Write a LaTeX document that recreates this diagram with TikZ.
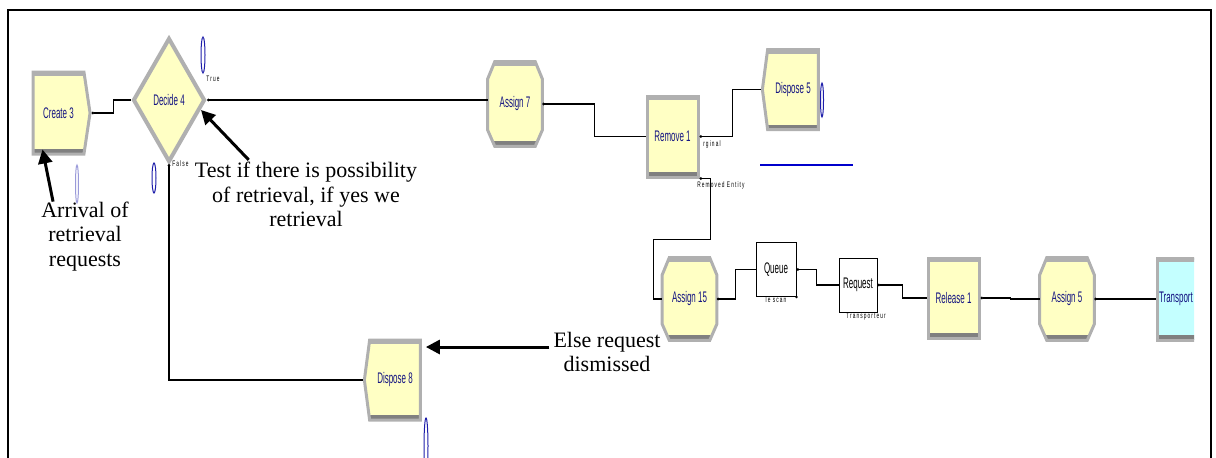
\documentclass[tikz,border=0pt]{standalone}
\usepackage{fontspec}
\setmainfont{Liberation Serif}
\newfontfamily\arenafont[FakeStretch=0.52]{Liberation Sans}
\newfontfamily\arenatiny[FakeStretch=0.6,LetterSpace=14]{Liberation Sans}
\usetikzlibrary{shapes.geometric,shapes.symbols,arrows.meta,calc,backgrounds}

\definecolor{modyellow}{RGB}{255,255,196}
\definecolor{modcyan}{RGB}{196,255,255}
\definecolor{modgray}{RGB}{176,176,176}
\definecolor{moddark}{RGB}{128,128,128}
\definecolor{modblue}{RGB}{20,20,130}
\definecolor{ovalblue}{RGB}{30,30,170}

\def\px{0.75pt}
\newcommand\modfont{\arenafont\fontsize{11.5}{12}\selectfont}

% body of an Assign module, drawn behind the node #1
\newcommand\assignbody[1]{%
\begin{scope}[on background layer]
\path[bevel] ([xshift=7*\px]#1.north west) -- ([xshift=-7*\px]#1.north east)
-- ([yshift=-17*\px]#1.north east) -- ([yshift=16*\px]#1.south east)
-- ([xshift=-7*\px]#1.south east) -- ([xshift=7*\px]#1.south west)
-- ([yshift=16*\px]#1.south west) -- ([yshift=-17*\px]#1.north west) -- cycle;
\end{scope}}

\begin{document}
\begin{tikzpicture}[x=0.75pt,y=-0.75pt,
% Arena modules: yellow body, grey bevel and a darker base
bevel/.style={
draw=modgray, line width=3*\px, fill=modyellow,
path picture={
\fill[modgray] (path picture bounding box.north west) rectangle ([yshift=-4*\px]path picture bounding box.north east);
\fill[moddark] (path picture bounding box.south west) rectangle ([yshift=5*\px]path picture bounding box.south east); } },
module/.style={
bevel, inner sep=0, text=modblue, font=\modfont },
create/.style={
module, signal, signal to=east, signal pointer angle=163,
minimum width=57*\px, minimum height=82*\px },
dispose/.style={
module, signal, signal to=west, signal pointer angle=165,
minimum width=56*\px, minimum height=80*\px },
assign/.style={
rectangle, inner sep=0, text=modblue, font=\modfont,
minimum width=54*\px, minimum height=84*\px },
plainmod/.style={
module, rectangle },
decide/.style={
diamond, draw=modgray, line width=4*\px, fill=modyellow,
inner sep=0, text=modblue, font=\modfont,
minimum width=72*\px, minimum height=124*\px },
block/.style={
rectangle, draw=black, line width=1*\px, fill=white,
inner sep=0, font=\modfont },
porttag/.style={
inner sep=0, font=\arenatiny\fontsize{6}{7}\selectfont },
callout/.style={
align=center, inner sep=0, font=\fontsize{16.5}{18.4}\selectfont },
link/.style={
draw, line width=1.1*\px, {Circle[length=2.6*\px]}- },
callarrow/.style={
draw, line width=3*\px, -{Triangle[length=14*\px,width=14*\px]} },
oval/.style={
draw=ovalblue, line width=1*\px },
]
\useasboundingbox (0,0) rectangle (1216,457);

% frame of the screenshot
\draw[line width=2*\px] (8,470) |- (1211,10) -- (1211,470);

%%% Arena modules
\node[create] (create) at (58.5,113) {Create 3};
\node[decide] (decide) at (169,100) {Decide 4};
\node[assign] (assign7) at (515,104) {Assign 7};
\assignbody{assign7}
\node[plainmod, minimum width=51*\px, minimum height=81*\px] (remove) at (672.5,136.5) {Remove 1};
\node[dispose] (dispose5) at (793,89.5) {Dispose 5};
\node[dispose] (dispose8) at (395,380) {Dispose 8};

% second row
\node[assign, minimum height=82*\px] (assign15) at (689.5,299) {Assign 15};
\assignbody{assign15}
\node[block, minimum width=40*\px, minimum height=54*\px] (queue) at (776,269.5) {Queue};
\node[block, minimum width=38*\px, minimum height=54*\px] (request) at (858,285) {Request};
\node[plainmod, minimum width=51*\px, minimum height=80*\px] (release) at (953.5,298) {Release 1};
\node[assign, minimum height=82*\px] (assign5) at (1067,299) {Assign 5};
\assignbody{assign5}
\begin{scope}
\clip (0,0) rectangle (1194,457);
\node[plainmod, fill=modcyan, minimum width=66*\px, minimum height=82*\px,
text width=62*\px, align=left] (transport) at (1190,299) {Transport};
\end{scope}

% exit point labels
\node[porttag] (truetag) at (213,79) {True};
\node[porttag, anchor=west] (falsetag) at (172,164) {False};
\node[porttag, anchor=west] (origtag) at (703,144) {rginal};
\node[porttag, anchor=west] (remtag) at (697,185) {Removed Entity};
\node[porttag] (scantag) at (776,300) {le scan};
\node[porttag] (transtag) at (866,317) {Transporteur};

%%% connections
\draw[link] (create.east) -- ++(22,0) |- (decide.west);
\draw[link] (decide.east) -- (decide.east -| assign7.west);
\draw[link] (decide.south) |- (dispose8.west);
\draw[link] (assign7.east) -- ++(52,0) |- (remove.west);
\draw[link] (remove.east) -- ++(33,0) |- (dispose5.west);
\draw[link] (remove.south east) -- ++(11,0) -- ++(0,61) -- ++(-57,0) |- (assign15.west);
\draw[link] (assign15.east) -- ++(19,0) |- (queue.west);
\draw[link] (queue.east) -- ++(20,0) |- (request.west);
\draw[link] (request.east) -- ++(25,0) |- (release.west);
\draw[link] (release.east) -- ++(30,0) |- (assign5.west);
\draw[link] (assign5.east) -- ++(31,0) |- (transport.west);
\fill (queue.south east) circle (1.3);

%%% animation leftovers
\draw[oval] (203,55) ellipse (2 and 18);
\draw[oval, draw=ovalblue!45] (77,184) ellipse (1.5 and 19);
\draw[oval] (154,178) ellipse (2 and 15);
\draw[oval] (822,100) ellipse (1.5 and 17);
\draw[oval] (426,446) ellipse (2 and 28);
\draw[draw=blue!80!black, line width=1.2*\px] (760,165) -- (853,165);

%%% comments with arrows
\node[callout] (arrival) at (85,236.5) {Arrival of\\retrieval\\requests};
\node[callout] (test) at (306,194.5) {Test if there is possibility\\of retrieval, if yes we\\retrieval};
\node[callout] (else) at (607,352) {Else request\\dismissed};

\draw[callarrow] ($(arrival.north west)+(12,0)$) -- ($(create.south)+(-16,-6)$);
\draw[callarrow] ($(test.north west)+(54,-2)$) -- ($(decide.east)+(-6,10)$);
\draw[callarrow] ($(else.west)+(-4,-5)$) -- ($(dispose8.east |- else.west)+(4,-5)$);

\end{tikzpicture}
\end{document}
